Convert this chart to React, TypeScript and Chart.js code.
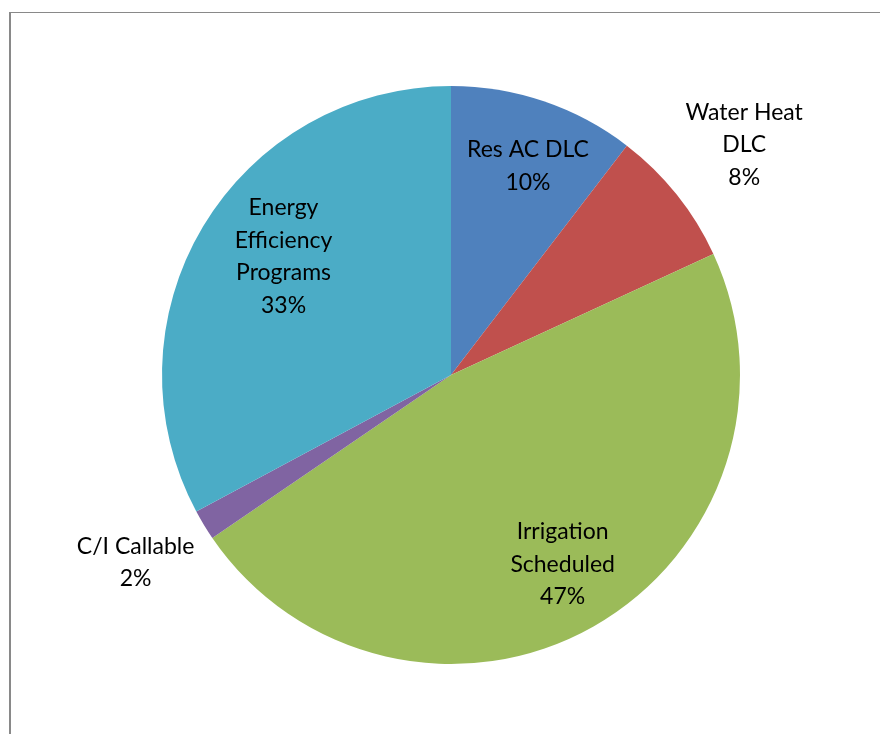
import React, { useEffect, useRef } from "react";
import { Chart, registerables } from "chart.js";

Chart.register(...registerables);

const categories: string[][] = [
  ["Res AC DLC"],
  ["Water Heat", "DLC"],
  ["Irrigation", "Scheduled"],
  ["C/I Callable"],
  ["Energy", "Efficiency", "Programs"],
];
const values: number[] = [10.4, 7.7, 47.3, 1.7, 32.8];
const percentLabels: string[] = ["10%", "8%", "47%", "2%", "33%"];
const colors: string[] = ["#4F81BD", "#C0504D", "#9BBB59", "#8064A2", "#4BACC6"];
const labelRadius: number[] = [0.77, 1.29, 0.76, 1.27, 0.71];
const labelAngleShiftDeg: number[] = [1.5, 0.5, -1, 0.5, 4.4];

const framePlugin = {
  id: "frame",
  beforeDraw(chart: any) {
    const ctx = chart.ctx;
    ctx.save();
    ctx.fillStyle = "#ffffff";
    ctx.fillRect(0, 0, chart.width, chart.height);
    ctx.fillStyle = "#898989";
    ctx.fillRect(9, 12, 2, chart.height - 12);
    ctx.fillRect(9, 12, chart.width - 9, 1);
    ctx.restore();
  },
};

const labelPlugin = {
  id: "sliceLabels",
  afterDatasetsDraw(chart: any) {
    const ctx = chart.ctx;
    const meta = chart.getDatasetMeta(0);
    ctx.save();
    ctx.fillStyle = "#000000";
    ctx.font = "23px Lato";
    ctx.textAlign = "center";
    ctx.textBaseline = "middle";
    const lineH = 32.5;
    meta.data.forEach((arc: any, i: number) => {
      const p = arc.getProps(["x", "y", "startAngle", "endAngle", "outerRadius"], true);
      const mid = (p.startAngle + p.endAngle) / 2 + (labelAngleShiftDeg[i] * Math.PI) / 180;
      const r = p.outerRadius * labelRadius[i];
      const cx = p.x + Math.cos(mid) * r;
      const cy = p.y + Math.sin(mid) * r;
      const lines = [...categories[i], percentLabels[i]];
      const y0 = cy - ((lines.length - 1) * lineH) / 2;
      lines.forEach((t, j) => ctx.fillText(t, cx, y0 + j * lineH));
    });
    ctx.restore();
  },
};

export default function App() {
  const ref = useRef<HTMLCanvasElement | null>(null);
  useEffect(() => {
    document.body.style.margin = "0";
    document.body.style.overflow = "hidden";
    if (!ref.current) return;
    const chart = new Chart(ref.current, {
      type: "pie",
      data: {
        labels: categories.map((c) => c.join(" ")),
        datasets: [
          {
            data: values,
            backgroundColor: colors,
            borderWidth: 0,
            hoverOffset: 0,
            offset: 0,
          },
        ],
      },
      options: {
        animation: false,
        responsive: false,
        maintainAspectRatio: false,
        layout: { padding: { left: 162, top: 86, right: 140, bottom: 70 } },
        plugins: {
          legend: { display: false },
          tooltip: { enabled: false },
          title: { display: false },
        },
      },
      plugins: [framePlugin, labelPlugin],
    });
    return () => chart.destroy();
  }, []);
  return (
    <div style={{ width: 880, height: 734 }}>
      <canvas ref={ref} width={880} height={734} style={{ display: "block" }} />
    </div>
  );
}
